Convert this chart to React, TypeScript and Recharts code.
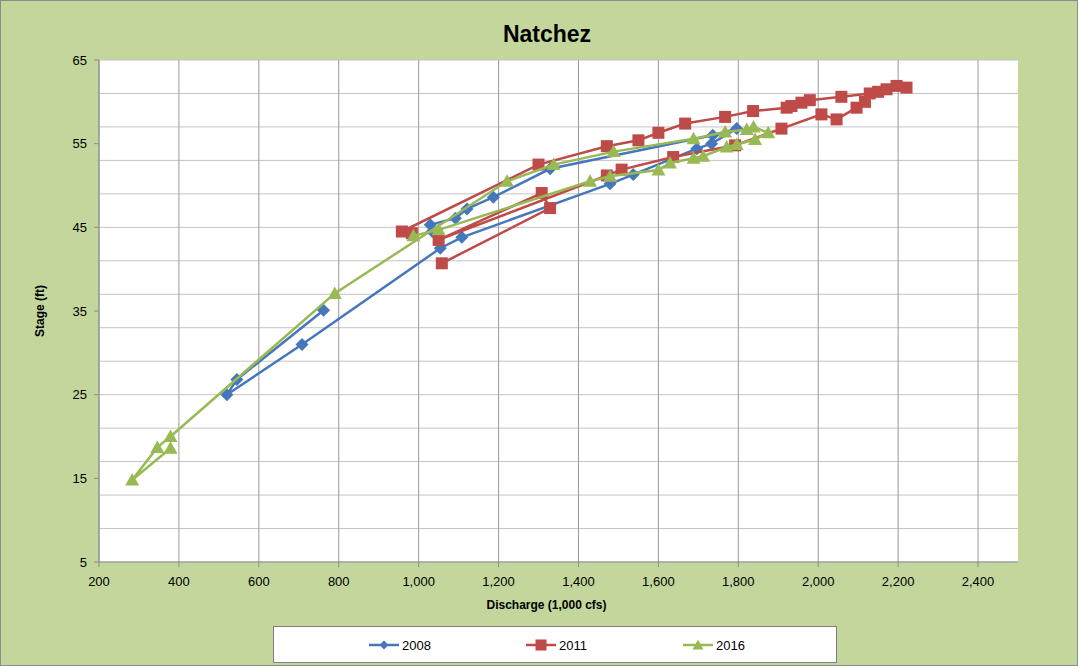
import React from "react";
import {
  ScatterChart,
  Scatter,
  XAxis,
  YAxis,
  CartesianGrid,
  Legend,
  Label,
} from "recharts";

// Natchez stage vs. discharge (1,000 cfs), one looped rating trace per year
const q2008 = [1034, 1029, 1092, 1121, 1187, 1329, 1736, 1796, 1733, 1696, 1537, 1479, 1108, 1054, 708, 520, 545, 762];
const s2008 = [44.5, 45.3, 46.1, 47.2, 48.6, 52.0, 56.0, 56.8, 55.0, 54.4, 51.3, 50.2, 43.8, 42.5, 31.0, 25.0, 26.8, 35.1];

const q2011 = [1058, 1329, 1308, 1050, 1471, 1508, 1637, 1792, 1908, 2008, 2046, 2096, 2117, 2150, 2171, 2196, 2221, 2129, 2058, 1979, 1958, 1933, 1921, 1837, 1767, 1667, 1600, 1550, 1471, 1300, 958, 983];
const s2011 = [40.7, 47.3, 49.1, 43.5, 51.2, 51.9, 53.4, 54.8, 56.8, 58.5, 57.9, 59.3, 60.0, 61.2, 61.5, 61.9, 61.7, 61.0, 60.6, 60.2, 59.9, 59.5, 59.3, 58.9, 58.2, 57.4, 56.3, 55.4, 54.7, 52.5, 44.5, 44.3];

const q2016 = [987, 1050, 1429, 1479, 1600, 1629, 1688, 1712, 1771, 1796, 1842, 1875, 1838, 1821, 1767, 1688, 1488, 1338, 1221, 790, 379, 346, 283, 379];
const s2016 = [44.0, 44.7, 50.5, 51.1, 51.85, 52.7, 53.25, 53.5, 54.6, 54.9, 55.5, 56.3, 57.0, 56.7, 56.4, 55.6, 54.05, 52.5, 50.5, 37.1, 20.0, 18.7, 14.8, 18.6];

const xTicks = [200, 400, 600, 800, 1000, 1200, 1400, 1600, 1800, 2000, 2200, 2400];
const yTicks = [5, 15, 25, 35, 45, 55, 65];
const seriesNames = ["2008", "2011", "2016"];

const toPoints = (q: number[], s: number[]) => q.map((x, i) => ({ x, y: s[i] }));
const data2008 = toPoints(q2008, s2008);
const data2011 = toPoints(q2011, s2011);
const data2016 = toPoints(q2016, s2016);

// minor horizontal grid every 2 ft
const hGrid: number[] = [];
for (let v = 5; v <= 65; v += 2) hGrid.push(v);

const BLUE = "#4677BD";
const RED = "#BE4B48";
const GREEN = "#98B954";
const FONT = "'Liberation Sans', Arial, sans-serif";

const Diamond = (p: any) => {
  const { cx, cy } = p;
  const r = 6.5;
  return <path d={`M${cx},${cy - r}L${cx + r},${cy}L${cx},${cy + r}L${cx - r},${cy}Z`} fill={BLUE} />;
};
const Square = (p: any) => {
  const { cx, cy } = p;
  return <rect x={cx - 6} y={cy - 6} width={12} height={12} fill={RED} />;
};
const Triangle = (p: any) => {
  const { cx, cy } = p;
  return <path d={`M${cx},${cy - 7}L${cx + 7},${cy + 5.5}L${cx - 7},${cy + 5.5}Z`} fill={GREEN} />;
};

const LegendBox = () => {
  const items = [
    { name: seriesNames[0], color: BLUE, x: 96, mark: "d" },
    { name: seriesNames[1], color: RED, x: 253, mark: "s" },
    { name: seriesNames[2], color: GREEN, x: 410, mark: "t" },
  ];
  const cy = 19;
  return (
    <svg width={564} height={37} style={{ display: "block" }}>
      <rect x={0.5} y={0.5} width={563} height={36} fill="#fff" stroke="#7f7f7f" />
      {items.map((it) => {
        const mx = it.x + 15;
        return (
          <g key={it.name}>
            <line x1={it.x} x2={it.x + 30} y1={cy} y2={cy} stroke={it.color} strokeWidth={2.5} />
            {it.mark === "d" && (
              <path d={`M${mx},${cy - 4.5}L${mx + 4.5},${cy}L${mx},${cy + 4.5}L${mx - 4.5},${cy}Z`} fill={it.color} />
            )}
            {it.mark === "s" && <rect x={mx - 5.5} y={cy - 5.5} width={11} height={11} fill={it.color} />}
            {it.mark === "t" && (
              <path d={`M${mx},${cy - 5.5}L${mx + 5.5},${cy + 4.5}L${mx - 5.5},${cy + 4.5}Z`} fill={it.color} />
            )}
            <text x={it.x + 33} y={cy + 4.5} fontSize={13} fontFamily={FONT} fill="#000">
              {it.name}
            </text>
          </g>
        );
      })}
    </svg>
  );
};

export default function App() {
  return (
    <div
      style={{
        position: "absolute",
        left: 0,
        top: 0,
        width: 1078,
        height: 666,
        background: "#C3D69B",
        boxSizing: "border-box",
        border: "1px solid #8c8c8c",
        fontFamily: FONT,
      }}
    >
      <div
        style={{
          position: "absolute",
          left: 396,
          top: 18,
          width: 300,
          textAlign: "center",
          fontSize: 23,
          fontWeight: "bold",
          lineHeight: "30px",
          color: "#000",
        }}
      >
        Natchez
      </div>
      <div style={{ position: "absolute", left: -1, top: -1 }}>
        <ScatterChart width={1078} height={666} margin={{ top: 60, right: 60, bottom: 54, left: 0 }}>
          {/* light horizontal grid every 2 ft */}
          <CartesianGrid fill="#ffffff" horizontalValues={hGrid} vertical={false} stroke="#c4c4c4" strokeWidth={1} />
          {/* darker vertical grid at each labelled discharge */}
          <CartesianGrid verticalValues={xTicks} horizontal={false} stroke="#9a9a9a" strokeWidth={1} />
          <XAxis
            type="number"
            dataKey="x"
            domain={[200, 2500]}
            ticks={xTicks}
            allowDataOverflow
            height={50}
            tickSize={5}
            tickMargin={10}
            tickFormatter={(v: number) => v.toLocaleString("en-US")}
            tick={{ fontSize: 13, fill: "#000", fontFamily: FONT }}
            stroke="#8c8c8c"
          >
            <Label
              value="Discharge (1,000 cfs)"
              position="insideBottom"
              offset={3}
              dx={-12}
              style={{ fontSize: 12, fontWeight: "bold", fill: "#000", fontFamily: FONT }}
            />
          </XAxis>
          <YAxis
            type="number"
            dataKey="y"
            domain={[5, 65]}
            ticks={yTicks}
            allowDataOverflow
            width={99}
            tickSize={5}
            tickMargin={7}
            tick={{ fontSize: 13, fill: "#000", fontFamily: FONT }}
            stroke="#8c8c8c"
          >
            <Label
              value="Stage (ft)"
              angle={-90}
              position="insideLeft"
              offset={40}
              style={{ fontSize: 12, fontWeight: "bold", fill: "#000", textAnchor: "middle", fontFamily: FONT }}
            />
          </YAxis>
          <Legend
            layout="horizontal"
            verticalAlign="middle"
            align="center"
            wrapperStyle={{ position: "absolute", left: 273, top: 626, width: 564, height: 37 }}
            content={() => <LegendBox />}
          />
          <Scatter
            name={seriesNames[0]}
            data={data2008}
            line={{ stroke: BLUE, strokeWidth: 2.5 }}
            shape={Diamond}
            isAnimationActive={false}
          />
          <Scatter
            name={seriesNames[1]}
            data={data2011}
            line={{ stroke: RED, strokeWidth: 2.5 }}
            shape={Square}
            isAnimationActive={false}
          />
          <Scatter
            name={seriesNames[2]}
            data={data2016}
            line={{ stroke: GREEN, strokeWidth: 2.5 }}
            shape={Triangle}
            isAnimationActive={false}
          />
        </ScatterChart>
      </div>
    </div>
  );
}
